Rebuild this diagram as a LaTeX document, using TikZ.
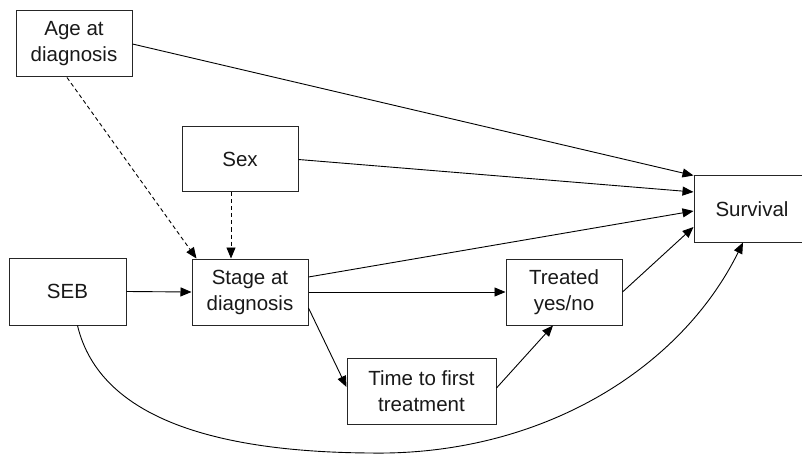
\documentclass[tikz,border=0pt]{standalone}
\usepackage{fontspec}
\setmainfont{Liberation Sans}
\usetikzlibrary{arrows.meta}
\begin{document}
\begin{tikzpicture}[x=1pt,y=-1pt,
  box/.style={draw=black!85, line width=1pt, fill=white, align=center, inner sep=0pt,
    font=\fontsize{20.5}{26}\selectfont, text=black!90},
  conn/.style={line width=0.9pt, -{Triangle[length=11pt,width=9pt]}},
  dconn/.style={conn, dash pattern=on 4pt off 3pt}]
\useasboundingbox (0,0) rectangle (802,454);
\clip (0,0) rectangle (802,454);
\node[box, minimum width=116pt, minimum height=66pt] (age) at (74,44) {Age at\\diagnosis};
\node[box, minimum width=116pt, minimum height=65pt] (sex) at (240,159.5) {Sex};
\node[box, minimum width=117pt, minimum height=67pt] (seb) at (67.5,291.5) {SEB};
\node[box, minimum width=116pt, minimum height=66pt] (stage) at (250,292) {Stage at\\diagnosis};
\node[box, minimum width=116pt, minimum height=66pt] (treated) at (564,292) {Treated\\yes/no};
\node[box, minimum width=149pt, minimum height=66pt] (time) at (421.5,391) {Time to first\\treatment};
\node[box, minimum width=116pt, minimum height=66pt] (surv) at (752,209) {Survival};
\draw[conn] (age.east) -- (surv.north west);
\draw[dconn] ([xshift=-7pt]age.south) -- ([xshift=5pt]stage.north west);
\draw[conn] (sex.east) -- ([yshift=17pt]surv.west);
\draw[dconn] ([xshift=-9pt]sex.south) -- ([xshift=-19pt]stage.north);
\draw[conn] (seb.east) -- (stage.west);
\draw[conn] ([yshift=15pt]stage.east) -- ([yshift=-2pt]surv.west);
\draw[conn] (stage.east) -- (treated.west);
\draw[conn] ([yshift=-16pt]stage.east) -- ([yshift=4pt]time.west);
\draw[conn] ([yshift=3pt]time.east) -- ([xshift=-11pt]treated.south);
\draw[conn] (treated.east) -- ([yshift=-18pt]surv.west);
\coordinate (low) at (370,453);
\draw[conn] ([xshift=10pt]seb.south) .. controls (100,420) and (220,452) .. (low)
  .. controls (540,456) and (680,370) .. ([xshift=-9pt]surv.south);
\end{tikzpicture}
\end{document}
